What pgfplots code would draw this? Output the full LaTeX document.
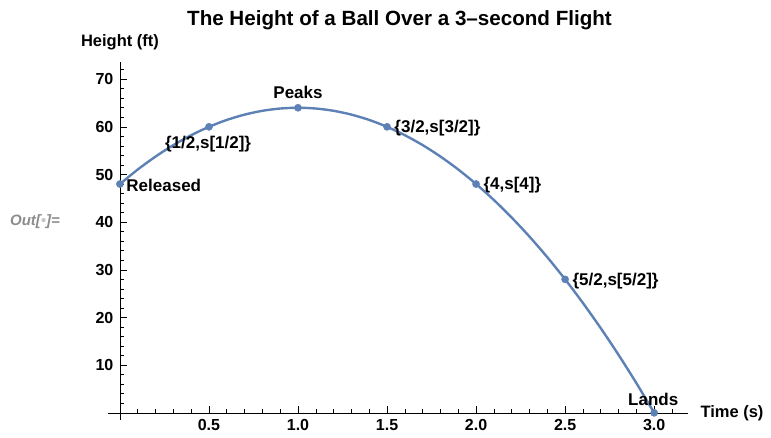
\documentclass[border=0pt]{standalone}
\usepackage{pgfplots}
\pgfplotsset{compat=1.18}
\usepackage{fontspec}
\setmainfont{Liberation Sans}
\definecolor{mblue}{RGB}{94,129,181}
\definecolor{outgray}{RGB}{140,140,140}
\begin{document}
\begin{tikzpicture}
\useasboundingbox (-108pt,-18pt) rectangle (663pt,420pt);
\begin{axis}[
  at={(0,0)}, anchor=south west,
  scale only axis, width=580pt, height=358pt,
  xmin=-0.067, xmax=3.19, ymin=-1.5, ymax=73.6,
  axis lines=middle,
  axis line style={black, line width=0.6pt, -},
  xtick={0.5,1.0,1.5,2.0,2.5,3.0},
  xticklabels={0.5,1.0,1.5,2.0,2.5,3.0},
  ytick={10,20,30,40,50,60,70},
  minor xtick={0.1,0.2,0.3,0.4,0.6,0.7,0.8,0.9,1.1,1.2,1.3,1.4,1.6,1.7,1.8,1.9,2.1,2.2,2.3,2.4,2.6,2.7,2.8,2.9,3.1},
  minor ytick={2,4,6,8,12,14,16,18,22,24,26,28,32,34,36,38,42,44,46,48,52,54,56,58,62,64,66,68,72},
  tick align=inside,
  major tick length=7pt, minor tick length=4pt,
  tick style={black, line width=0.6pt},
  ticklabel style={font=\fontsize{16}{18}\selectfont\bfseries},
  /pgf/number format/assume math mode=true,
  xticklabel style={yshift=-3pt},
  yticklabel style={xshift=-3pt},
  clip=false,
]
\addplot[mblue, line width=2.4pt, smooth] coordinates {
(0,48) (0.1,51.04) (0.2,53.76) (0.3,56.16) (0.4,58.24) (0.5,60)
(0.6,61.44) (0.7,62.56) (0.8,63.36) (0.9,63.84) (1.0,64)
(1.1,63.84) (1.2,63.36) (1.3,62.56) (1.4,61.44) (1.5,60)
(1.6,58.24) (1.7,56.16) (1.8,53.76) (1.9,51.04) (2.0,48)
(2.1,44.64) (2.2,40.96) (2.3,36.96) (2.4,32.64) (2.5,28)
(2.6,23.04) (2.7,17.76) (2.8,12.16) (2.9,6.24) (3.0,0)
};
\addplot[only marks, mark=*, mark size=3.6pt, mblue] coordinates {
(0,48) (0.5,60) (1.0,64) (1.5,60) (2.0,48) (2.5,28) (3.0,0)
};
\begin{scope}[every node/.style={font=\fontsize{17}{19}\selectfont\bfseries, inner sep=1pt}]
\node[anchor=west] at (axis cs:0.03,47.8) {Released};
\node[anchor=north] at (axis cs:0.495,58.3) {\{1/2,s[1/2]\}};
\node[anchor=south] at (axis cs:1.0,65.6) {Peaks};
\node[anchor=west] at (axis cs:1.535,59.7) {\{3/2,s[3/2]\}};
\node[anchor=west] at (axis cs:2.035,47.7) {\{4,s[4]\}};
\node[anchor=west] at (axis cs:2.535,27.7) {\{5/2,s[5/2]\}};
\node[anchor=south] at (axis cs:2.995,1.3) {Lands};
\end{scope}
\end{axis}
\node[font=\fontsize{20.6}{23}\selectfont\bfseries] at (291.5pt,400pt) {The Height of a Ball Over a 3\textendash second Flight};
\node[font=\fontsize{16.5}{18}\selectfont\bfseries] at (12pt,378pt) {Height (ft)};
\node[font=\fontsize{16.5}{18}\selectfont\bfseries, anchor=west] at (589pt,7pt) {Time (s)};
\node[font=\fontsize{15}{18}\selectfont\bfseries\itshape, text=outgray] at (-73pt,198pt) {Out[\textcolor{outgray!50}{\textbullet}]=};
\end{tikzpicture}
\end{document}
